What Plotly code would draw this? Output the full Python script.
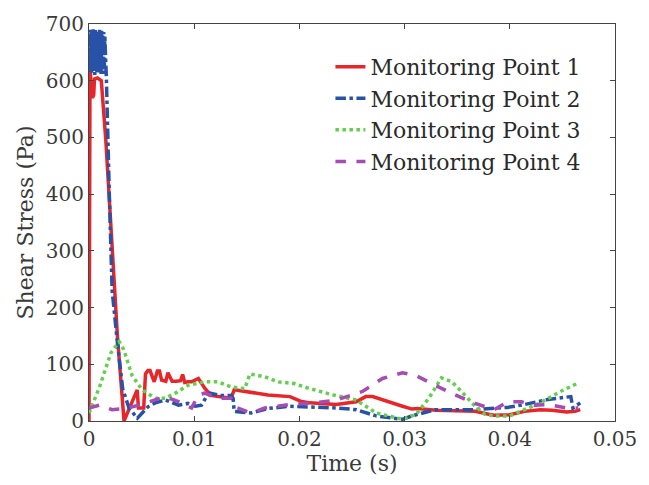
import plotly.graph_objects as go

# time in milliseconds, shear stress in Pa
t1_ms = [0, 0.02, 0.1, 0.2, 0.33, 0.45, 0.52, 0.8, 1.0, 1.17, 1.6, 2.2, 2.7, 3.33, 4.0, 4.58, 4.7, 5.2, 5.37,
         5.6, 5.8, 6.1, 6.2, 6.5, 6.7, 6.9, 7.3, 7.5, 7.9, 8.3, 8.7, 8.9, 9.1, 9.4, 9.75, 10.4, 11.0, 11.6,
         12.5, 13.5, 13.8, 15.4, 17.0, 19.1, 20.1, 21.0, 23.5, 25.4, 26.3, 26.96, 28.5, 29.8, 30.7, 31.2,
         33.0, 35.0, 36.7, 38.0, 38.5, 40.0, 41.4, 42.9, 44.0, 45.4, 46.2, 46.7]
p1 = [0, 630, 640, 580, 570, 575, 603, 605, 603, 600, 495, 300, 150, 0, 30, 55, 23, 23, 83,
      89, 89, 70, 69, 88, 88, 72, 70, 85, 70, 70, 71, 82, 68, 69, 69, 75, 58, 45,
      42, 40, 55, 50, 46, 43, 35, 32, 29, 34, 43, 43, 33, 26, 21, 22,
      19, 18, 17, 12, 10, 11, 17, 20, 19, 16, 17, 20]

t2_ms = [0, 0.05, 0.1, 0.15, 0.2, 0.25, 0.3, 0.35, 0.4, 0.45, 0.5, 0.55, 0.6, 0.65, 0.7, 0.75, 0.8,
         0.85, 0.9, 0.95, 1.0, 1.05, 1.1, 1.15, 1.2, 1.25, 1.3, 1.35, 1.4, 1.45, 1.5,
         1.65, 1.93, 2.2, 2.7, 3.2, 3.8, 4.6, 5.1, 5.6, 6.3, 7.25, 8.5, 9.4, 10.1, 10.7,
         11.2, 11.5, 12.5, 13.5, 13.7, 13.8, 15.4, 16.5, 17.0, 19.1, 21.0, 23.5, 25.4, 27.3, 29.8, 30.7,
         32.9, 36.7, 39.8, 41.4, 43.6, 45.8, 46.0, 46.7]
p2 = [680, 615, 690, 620, 688, 612, 685, 625, 692, 618, 683, 610, 690, 622, 686, 615, 680,
      620, 688, 612, 690, 618, 684, 612, 688, 620, 682, 614, 686, 612, 680,
      605, 400, 230, 138, 57, 23, 5, 15, 25, 32, 37, 28, 31, 26, 28,
      44, 49, 45, 45, 40, 17, 14, 20, 22, 26, 25, 23, 20, 9, 3, 9,
      20, 20, 24, 29, 38, 43, 23, 32]

t3_ms = [0, 1.0, 2.08, 2.86, 3.3, 4.1, 5.05, 6.3, 7.25, 8.3, 9.4, 11.0, 12.3, 13.5, 14.8, 15.3, 16.7, 18.0,
         19.5, 21.0, 23.2, 25.4, 27.3, 29.8, 31.1, 32.3, 33.5, 34.5, 35.4, 36.7, 37.6, 38.5, 40.0, 41.4,
         42.9, 44.8, 46.4]
p3 = [14, 60, 120, 140, 126, 80, 55, 40, 40, 50, 63, 69, 69, 60, 57, 83, 78, 69,
      66, 57, 46, 37, 14, 3, 12, 40, 76, 69, 52, 26, 12, 9, 9, 20,
      32, 52, 66]

t4_ms = [0, 1.0, 2.2, 3.5, 4.75, 6.3, 7.25, 8.5, 9.75, 10.4, 11.0, 12.3, 13.5, 14.1, 15.4, 16.7, 19.1, 21.5,
         23.5, 26.0, 27.9, 29.8, 31.1, 32.9, 34.8, 36.7, 38.5, 39.8, 41.1, 42.3, 43.6, 45.4, 46.5]
p4 = [23, 28, 20, 22, 28, 37, 43, 34, 23, 46, 49, 40, 40, 23, 14, 23, 29, 32,
      37, 52, 75, 85, 80, 63, 46, 31, 20, 34, 34, 28, 29, 23, 23]

names = ["Monitoring Point 1", "Monitoring Point 2", "Monitoring Point 3", "Monitoring Point 4"]
x_ticks = [0, 0.01, 0.02, 0.03, 0.04, 0.05]
x_tick_labels = ["0", "0.01", "0.02", "0.03", "0.04", "0.05"]
y_ticks = [0, 100, 200, 300, 400, 500, 600, 700]

FONT = "DejaVu Serif"

series = [
    (t1_ms, p1, "#e8262a", "solid", 3.5),
    (t2_ms, p2, "#2752a8", "dashdot", 3.5),
    (t3_ms, p3, "#62d04c", "dot", 3.5),
    (t4_ms, p4, "#a64cb2", "dash", 3.5),
]

fig = go.Figure()
for (t, p, c, d, w), n in zip(series, names):
    fig.add_trace(go.Scatter(
        x=[v / 1000 for v in t], y=p, mode="lines", name=n,
        line=dict(color=c, width=w, dash=d),
    ))

fig.update_layout(
    width=649, height=485,
    margin=dict(l=89, r=21, t=20, b=64),
    paper_bgcolor="white", plot_bgcolor="white",
    font=dict(family=FONT, size=20, color="#3a3a3a"),
    showlegend=True,
    legend=dict(x=0.459, y=0.945, xanchor="left", yanchor="top",
                bgcolor="rgba(255,255,255,0)", borderwidth=0,
                font=dict(family=FONT, size=22, color="#2a2a2a")),
    xaxis=dict(range=[0, 0.05], tickvals=x_ticks, ticktext=x_tick_labels,
               ticklabeloverflow="allow",
               showgrid=False, zeroline=False, showline=True, linecolor="#444444", linewidth=1,
               mirror="ticks", ticks="inside", ticklen=5, tickcolor="#444444",
               title=dict(text="Time (s)", font=dict(size=22), standoff=2)),
    yaxis=dict(range=[0, 700], tickvals=y_ticks,
               showgrid=False, zeroline=False, showline=True, linecolor="#444444", linewidth=1,
               mirror="ticks", ticks="inside", ticklen=5, tickcolor="#444444",
               title=dict(text="Shear Stress (Pa)", font=dict(size=22), standoff=6)),
)

fig.write_html("out.html")
